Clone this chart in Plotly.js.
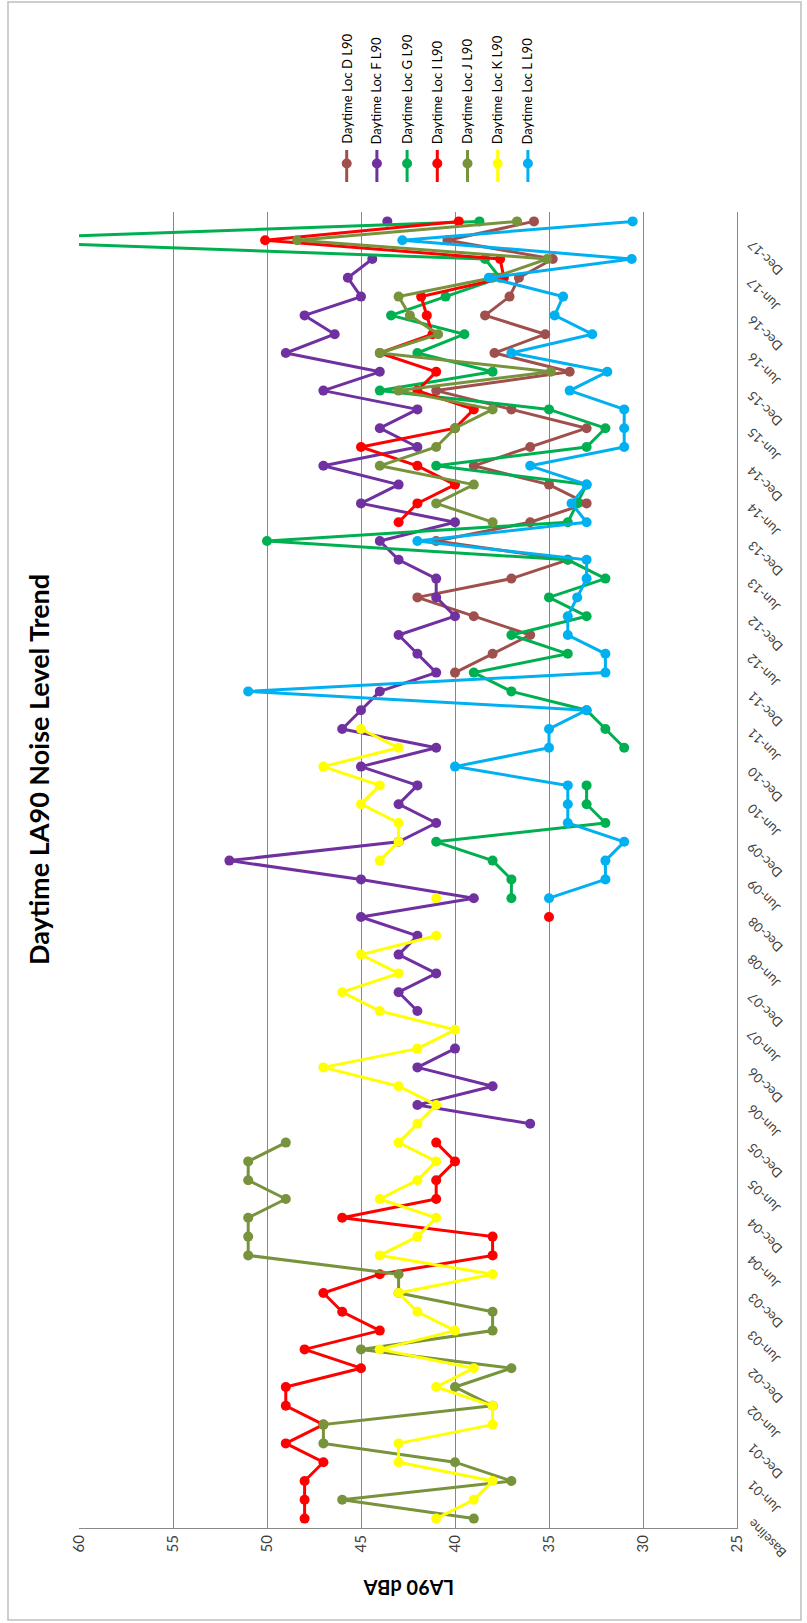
<!DOCTYPE html>
<html>
<head>
<meta charset="utf-8">
<script src="https://cdn.plot.ly/plotly-3.0.1.min.js"></script>
<style>
  html, body { margin: 0; padding: 0; background: #ffffff; }
  #chart { width: 807px; height: 1623px; }
</style>
</head>
<body>
<div id="chart"></div>
<script>
// ---------------- DATA ----------------
// 70 survey periods (quarterly); every second one is labelled on the axis.
var periods = ["Baseline",
  "Mar-01","Jun-01","Sep-01","Dec-01","Mar-02","Jun-02","Sep-02","Dec-02",
  "Mar-03","Jun-03","Sep-03","Dec-03","Mar-04","Jun-04","Sep-04","Dec-04",
  "Mar-05","Jun-05","Sep-05","Dec-05","Mar-06","Jun-06","Sep-06","Dec-06",
  "Mar-07","Jun-07","Sep-07","Dec-07","Mar-08","Jun-08","Sep-08","Dec-08",
  "Mar-09","Jun-09","Sep-09","Dec-09","Mar-10","Jun-10","Sep-10","Dec-10",
  "Mar-11","Jun-11","Sep-11","Dec-11","Mar-12","Jun-12","Sep-12","Dec-12",
  "Mar-13","Jun-13","Sep-13","Dec-13","Mar-14","Jun-14","Sep-14","Dec-14",
  "Mar-15","Jun-15","Sep-15","Dec-15","Mar-16","Jun-16","Sep-16","Dec-16",
  "Mar-17","Jun-17","Sep-17","Dec-17","Mar-18"];

var tickLabels = ["Baseline","Jun-01","Dec-01","Jun-02","Dec-02","Jun-03","Dec-03",
  "Jun-04","Dec-04","Jun-05","Dec-05","Jun-06","Dec-06","Jun-07","Dec-07",
  "Jun-08","Dec-08","Jun-09","Dec-09","Jun-10","Dec-10","Jun-11","Dec-11",
  "Jun-12","Dec-12","Jun-13","Dec-13","Jun-14","Dec-14","Jun-15","Dec-15",
  "Jun-16","Dec-16","Jun-17","Dec-17"];

var seriesNames = ["Daytime Loc D L90","Daytime Loc F L90","Daytime Loc G L90",
  "Daytime Loc I L90","Daytime Loc J L90","Daytime Loc K L90","Daytime Loc L L90"];

var N = null;
// index:          0    1    2    3    4    5    6    7    8    9
var locD = [       N,   N,   N,   N,   N,   N,   N,   N,   N,   N,
                   N,   N,   N,   N,   N,   N,   N,   N,   N,   N,
                   N,   N,   N,   N,   N,   N,   N,   N,   N,   N,
                   N,   N,   N,   N,   N,   N,   N,   N,   N,   N,
                   N,   N,   N,   N,   N,  40,  38,  36,  39,  42,
                  37,  34,  41,  36,  33,  35,  39,  36,  33,  37,
                  41,33.9,37.9,35.2,38.4,37.1,36.6,34.8,40.4,35.8];
var locF = [       N,   N,   N,   N,   N,   N,   N,   N,   N,   N,
                   N,   N,   N,   N,   N,   N,   N,   N,   N,   N,
                   N,  36,  42,  38,  42,  40,   N,  42,  43,  41,
                  43,  42,  45,  39,  45,  52,  43,  41,  43,  42,
                  45,  41,  46,  45,  44,  41,  42,  43,  40,  41,
                  41,  43,  44,  40,  45,  43,  47,  42,  44,  42,
                  47,  44,  49,46.4, 48,  45,45.7,44.4,  N,43.6];
var locG = [       N,   N,   N,   N,   N,   N,   N,   N,   N,   N,
                   N,   N,   N,   N,   N,   N,   N,   N,   N,   N,
                   N,   N,   N,   N,   N,   N,   N,   N,   N,   N,
                   N,   N,   N,  37,  37,  38,  41,  32,  33,  33,
                   N,  31,  32,  33,  37,  39,  34,  37,  33,  35,
                  32,  34,  50,  34,33.5,  33,  41,  33,  32,  35,
                  44,  38,  42,39.5,43.4,40.5,37.6,38.4,66.5,38.7];
var locI = [      48,  48,  48,  47,  49,  47,  49,  49,  45,  48,
                  44,  46,  47,  44,  38,  38,  46,  41,  41,  40,
                  41,   N,   N,   N,   N,   N,   N,   N,   N,   N,
                   N,   N,  35,   N,   N,   N,   N,   N,   N,   N,
                   N,   N,   N,   N,   N,   N,   N,   N,   N,   N,
                   N,   N,   N,  43,  42,  40,  42,  45,  40,  39,
                  42,  41,  44,41.2,41.5,41.8,37.4,37.6,50.1,39.8];
var locJ = [      39,  46,  37,  40,  47,  47,  38,  40,  37,  45,
                  38,  38,  43,  43,  51,  51,  51,  49,  51,  51,
                  49,   N,   N,   N,   N,   N,   N,   N,   N,   N,
                   N,   N,   N,   N,   N,   N,   N,   N,   N,   N,
                   N,   N,   N,   N,   N,   N,   N,   N,   N,   N,
                   N,   N,   N,  38,  41,  39,  44,  41,  40,  38,
                  43,34.9,  44,40.9,42.4,  43,  38,35.1,48.4,36.7];
var locK = [      41,  39,  38,  43,  43,  38,  38,  41,  39,  44,
                  40,  42,  43,  38,  44,  42,  41,  44,  42,  41,
                  43,  42,  41,  43,  47,  42,  40,  44,  46,  43,
                  45,  41,   N,  41,   N,  44,  43,  43,  45,  44,
                  47,  43,  45,   N,   N,   N,   N,   N,   N,   N,
                   N,   N,   N,   N,   N,   N,   N,   N,   N,   N,
                   N,   N,   N,   N,   N,   N,   N,   N,   N,   N];
var locL = [       N,   N,   N,   N,   N,   N,   N,   N,   N,   N,
                   N,   N,   N,   N,   N,   N,   N,   N,   N,   N,
                   N,   N,   N,   N,   N,   N,   N,   N,   N,   N,
                   N,   N,   N,  35,  32,  32,  31,  34,  34,  34,
                  40,  35,  35,  33,  51,  32,  32,  34,  34,33.5,
                  33,  33,  42,  33,33.8,  33,  36,  31,  31,  31,
                33.9,31.9,  37,32.7,34.7,34.25,38.2,30.6,42.8,30.55];

var seriesValues = [locD, locF, locG, locI, locJ, locK, locL];
var seriesColors = ["#A0504C","#7030A0","#00B050","#FF0000","#77933C","#FFFF00","#00B0F0"];
var valueTicks = [60, 55, 50, 45, 40, 35, 30, 25];

// ---------------- LAYOUT GEOMETRY ----------------
var W = 807, H = 1623;
var M = {l: 79, r: 70, t: 212, b: 95};
var PW = W - M.l - M.r, PH = H - M.t - M.b;
function px(x) { return (x - M.l) / PW; }        // pixel -> paper x
function py(y) { return (H - M.b - y) / PH; }    // pixel -> paper y

var FONT = "Lato, 'Open Sans', 'Liberation Sans', sans-serif";

var traces = seriesValues.map(function (vals, k) {
  return {
    type: "scatter",
    mode: "lines+markers",
    name: seriesNames[k],
    x: vals,
    y: periods,
    line: {color: seriesColors[k], width: 3},
    marker: {color: seriesColors[k], size: 10, symbol: "circle"},
    connectgaps: false,
    hoverinfo: "skip"
  };
});

var shapes = [
  {type: "rect", xref: "paper", yref: "paper",
   x0: px(8), x1: px(801), y0: py(1620), y1: py(2),
   line: {color: "#BFBFBF", width: 1.5}, fillcolor: "rgba(0,0,0,0)", layer: "below"}
];
var annotations = [
  {xref: "paper", yref: "paper", x: px(38), y: py(770),
   text: "<b>Daytime LA90 Noise Level Trend</b>", textangle: -90, showarrow: false,
   xanchor: "center", yanchor: "middle", font: {family: FONT, size: 27, color: "#000000"}},
  {xref: "paper", yref: "paper", x: px(409), y: py(1588),
   text: "<b>LA90 dBA</b>", textangle: 180, showarrow: false,
   xanchor: "center", yanchor: "middle", font: {family: FONT, size: 20, color: "#000000"}}
];

// category labels (every second period), written upside-down to the right of the axis
tickLabels.forEach(function (lab, i) {
  annotations.push({xref: "paper", yref: "y", x: px(741), y: periods[2 * i],
    text: lab, textangle: -135, showarrow: false, xanchor: "left", yanchor: "top",
    yshift: 6, font: {family: FONT, size: 13, color: "#404040"}});
});

// legend (drawn rotated, along the top)
seriesNames.forEach(function (nm, k) {
  var cx = 346.7 + k * 30.2;
  shapes.push({type: "line", xref: "paper", yref: "paper",
    x0: px(cx), x1: px(cx), y0: py(150), y1: py(182),
    line: {color: seriesColors[k], width: 3}});
  shapes.push({type: "circle", xref: "paper", yref: "paper",
    x0: px(cx - 5), x1: px(cx + 5), y0: py(158.5), y1: py(168.5),
    line: {color: seriesColors[k], width: 0}, fillcolor: seriesColors[k]});
  annotations.push({xref: "paper", yref: "paper", x: px(cx), y: py(146),
    text: nm, textangle: -90, showarrow: false, xanchor: "center", yanchor: "bottom",
    font: {family: FONT, size: 13, color: "#000000"}});
});

var layout = {
  width: W, height: H,
  margin: {l: M.l, r: M.r, t: M.t, b: M.b, pad: 0},
  paper_bgcolor: "#ffffff", plot_bgcolor: "#ffffff",
  showlegend: false,
  xaxis: {
    range: [60, 25], tickmode: "array", tickvals: valueTicks,
    ticktext: valueTicks.map(String), tickangle: -90,
    showgrid: true, gridcolor: "#878787", gridwidth: 1,
    showline: true, linecolor: "#878787", linewidth: 1,
    zeroline: false, ticks: "", fixedrange: true,
    tickfont: {family: FONT, size: 15, color: "#404040"}
  },
  yaxis: {
    type: "category", categoryorder: "array", categoryarray: periods,
    range: [-0.5, periods.length - 0.5],
    side: "right", showline: true, linecolor: "#878787", linewidth: 1,
    showgrid: false, zeroline: false, ticks: "", showticklabels: false,
    fixedrange: true
  },
  shapes: shapes,
  annotations: annotations
};

Plotly.newPlot("chart", traces, layout, {displayModeBar: false, staticPlot: true});
</script>
</body>
</html>
